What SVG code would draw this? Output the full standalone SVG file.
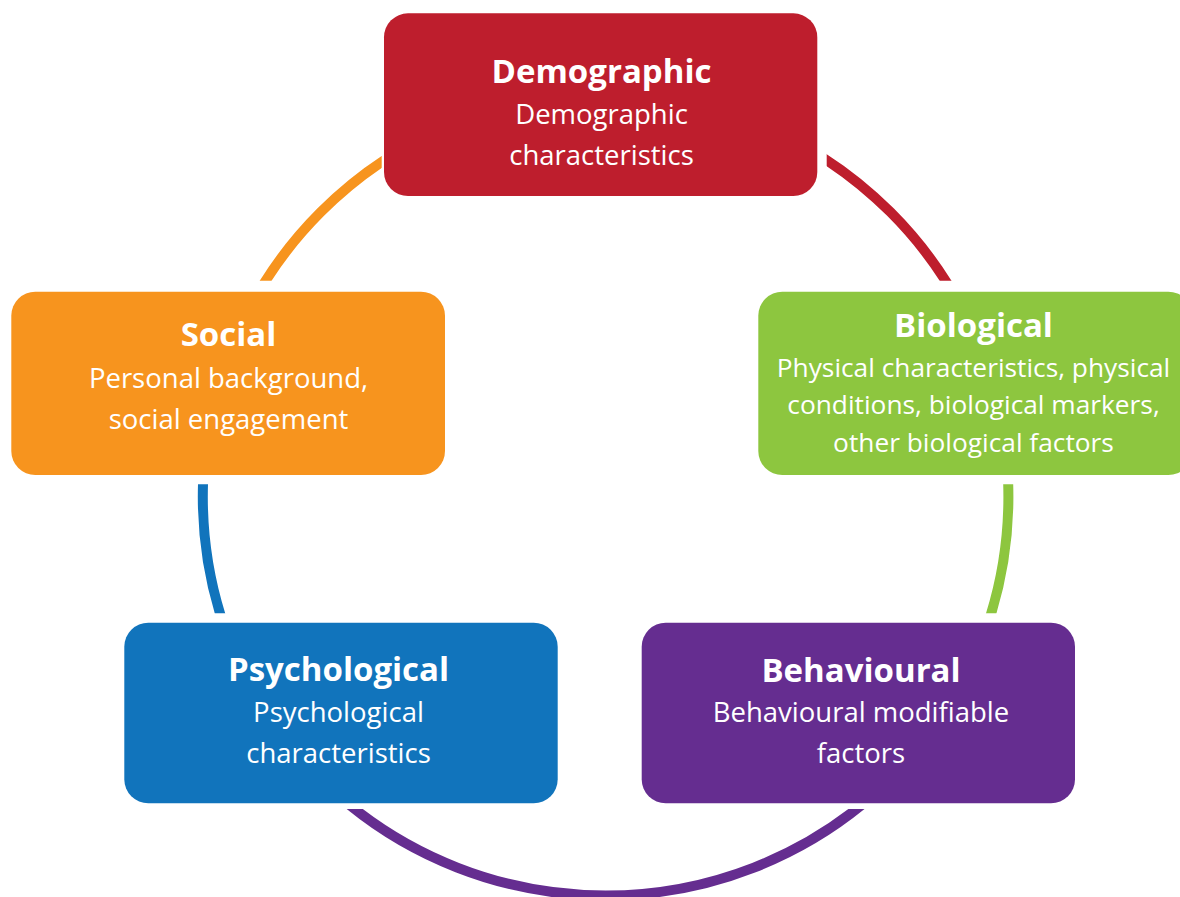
<svg xmlns="http://www.w3.org/2000/svg" width="1180" height="897" viewBox="0 0 1180 897">
  <style>
    .ring { fill: none; stroke-width: 10; }
    .t { font-family: "Open Sans", "Noto Sans", "Liberation Sans", sans-serif; fill: #ffffff; text-anchor: middle; }
    .h { font-size: 33px; font-weight: 700; }
    .s { font-size: 27.5px; font-weight: 400; }
    .sb { font-size: 26.3px; font-weight: 400; }
  </style>
  <defs>
    <clipPath id="cOrange"><rect x="0" y="0" width="381.7" height="280.7"/></clipPath>
    <clipPath id="cRed"><rect x="826.7" y="0" width="353.3" height="280.7"/></clipPath>
    <clipPath id="cBlue"><rect x="0" y="484.3" width="605.6" height="129"/></clipPath>
    <clipPath id="cGreen"><rect x="605.6" y="484.3" width="574.4" height="129"/></clipPath>
    <clipPath id="cPurple"><rect x="0" y="809" width="1180" height="88"/></clipPath>
  </defs>
  <rect width="1180" height="897" fill="#ffffff"/>
  <g id="connectors">
    <circle class="ring" cx="605.6" cy="496.9" r="402.8" stroke="#F7941E" clip-path="url(#cOrange)"/>
    <circle class="ring" cx="605.6" cy="496.9" r="402.8" stroke="#BE1E2D" clip-path="url(#cRed)"/>
    <circle class="ring" cx="605.6" cy="496.9" r="402.8" stroke="#1174BC" clip-path="url(#cBlue)"/>
    <circle class="ring" cx="605.6" cy="496.9" r="402.8" stroke="#8DC63F" clip-path="url(#cGreen)"/>
    <ellipse class="ring" cx="605.6" cy="497.5" rx="403" ry="398" stroke="#652D90" clip-path="url(#cPurple)"/>
  </g>
  <g id="demographic">
    <rect x="384" y="13.3" width="433.3" height="182.7" rx="24" fill="#BE1E2D"/>
    <text class="t h" x="601.5" y="82.7">Demographic</text>
    <text class="t s" x="601.5" y="124">Demographic</text>
    <text class="t s" x="601.5" y="165">characteristics</text>
  </g>
  <g id="social">
    <rect x="11.3" y="291.7" width="433.7" height="183.3" rx="24" fill="#F7941E"/>
    <text class="t h" x="228.5" y="346">Social</text>
    <text class="t s" x="228.5" y="388.3">Personal background,</text>
    <text class="t s" x="228.5" y="429.3">social engagement</text>
  </g>
  <g id="biological">
    <rect x="758.3" y="291.7" width="434" height="183.3" rx="24" fill="#8DC63F"/>
    <text class="t h" x="973.5" y="336.7">Biological</text>
    <text class="t sb" x="973.5" y="376.5">Physical characteristics, physical</text>
    <text class="t sb" x="973.5" y="414.3">conditions, biological markers,</text>
    <text class="t sb" x="973.5" y="452">other biological factors</text>
  </g>
  <g id="psychological">
    <rect x="124.3" y="622.7" width="433.4" height="180.6" rx="24" fill="#1174BC"/>
    <text class="t h" x="338.5" y="680.7">Psychological</text>
    <text class="t s" x="338.5" y="721.7">Psychological</text>
    <text class="t s" x="338.5" y="762.7">characteristics</text>
  </g>
  <g id="behavioural">
    <rect x="641.7" y="622.7" width="433.3" height="180.6" rx="24" fill="#652D90"/>
    <text class="t h" x="861" y="681.7">Behavioural</text>
    <text class="t s" x="861" y="722.3">Behavioural modifiable</text>
    <text class="t s" x="861" y="763.3">factors</text>
  </g>
</svg>
